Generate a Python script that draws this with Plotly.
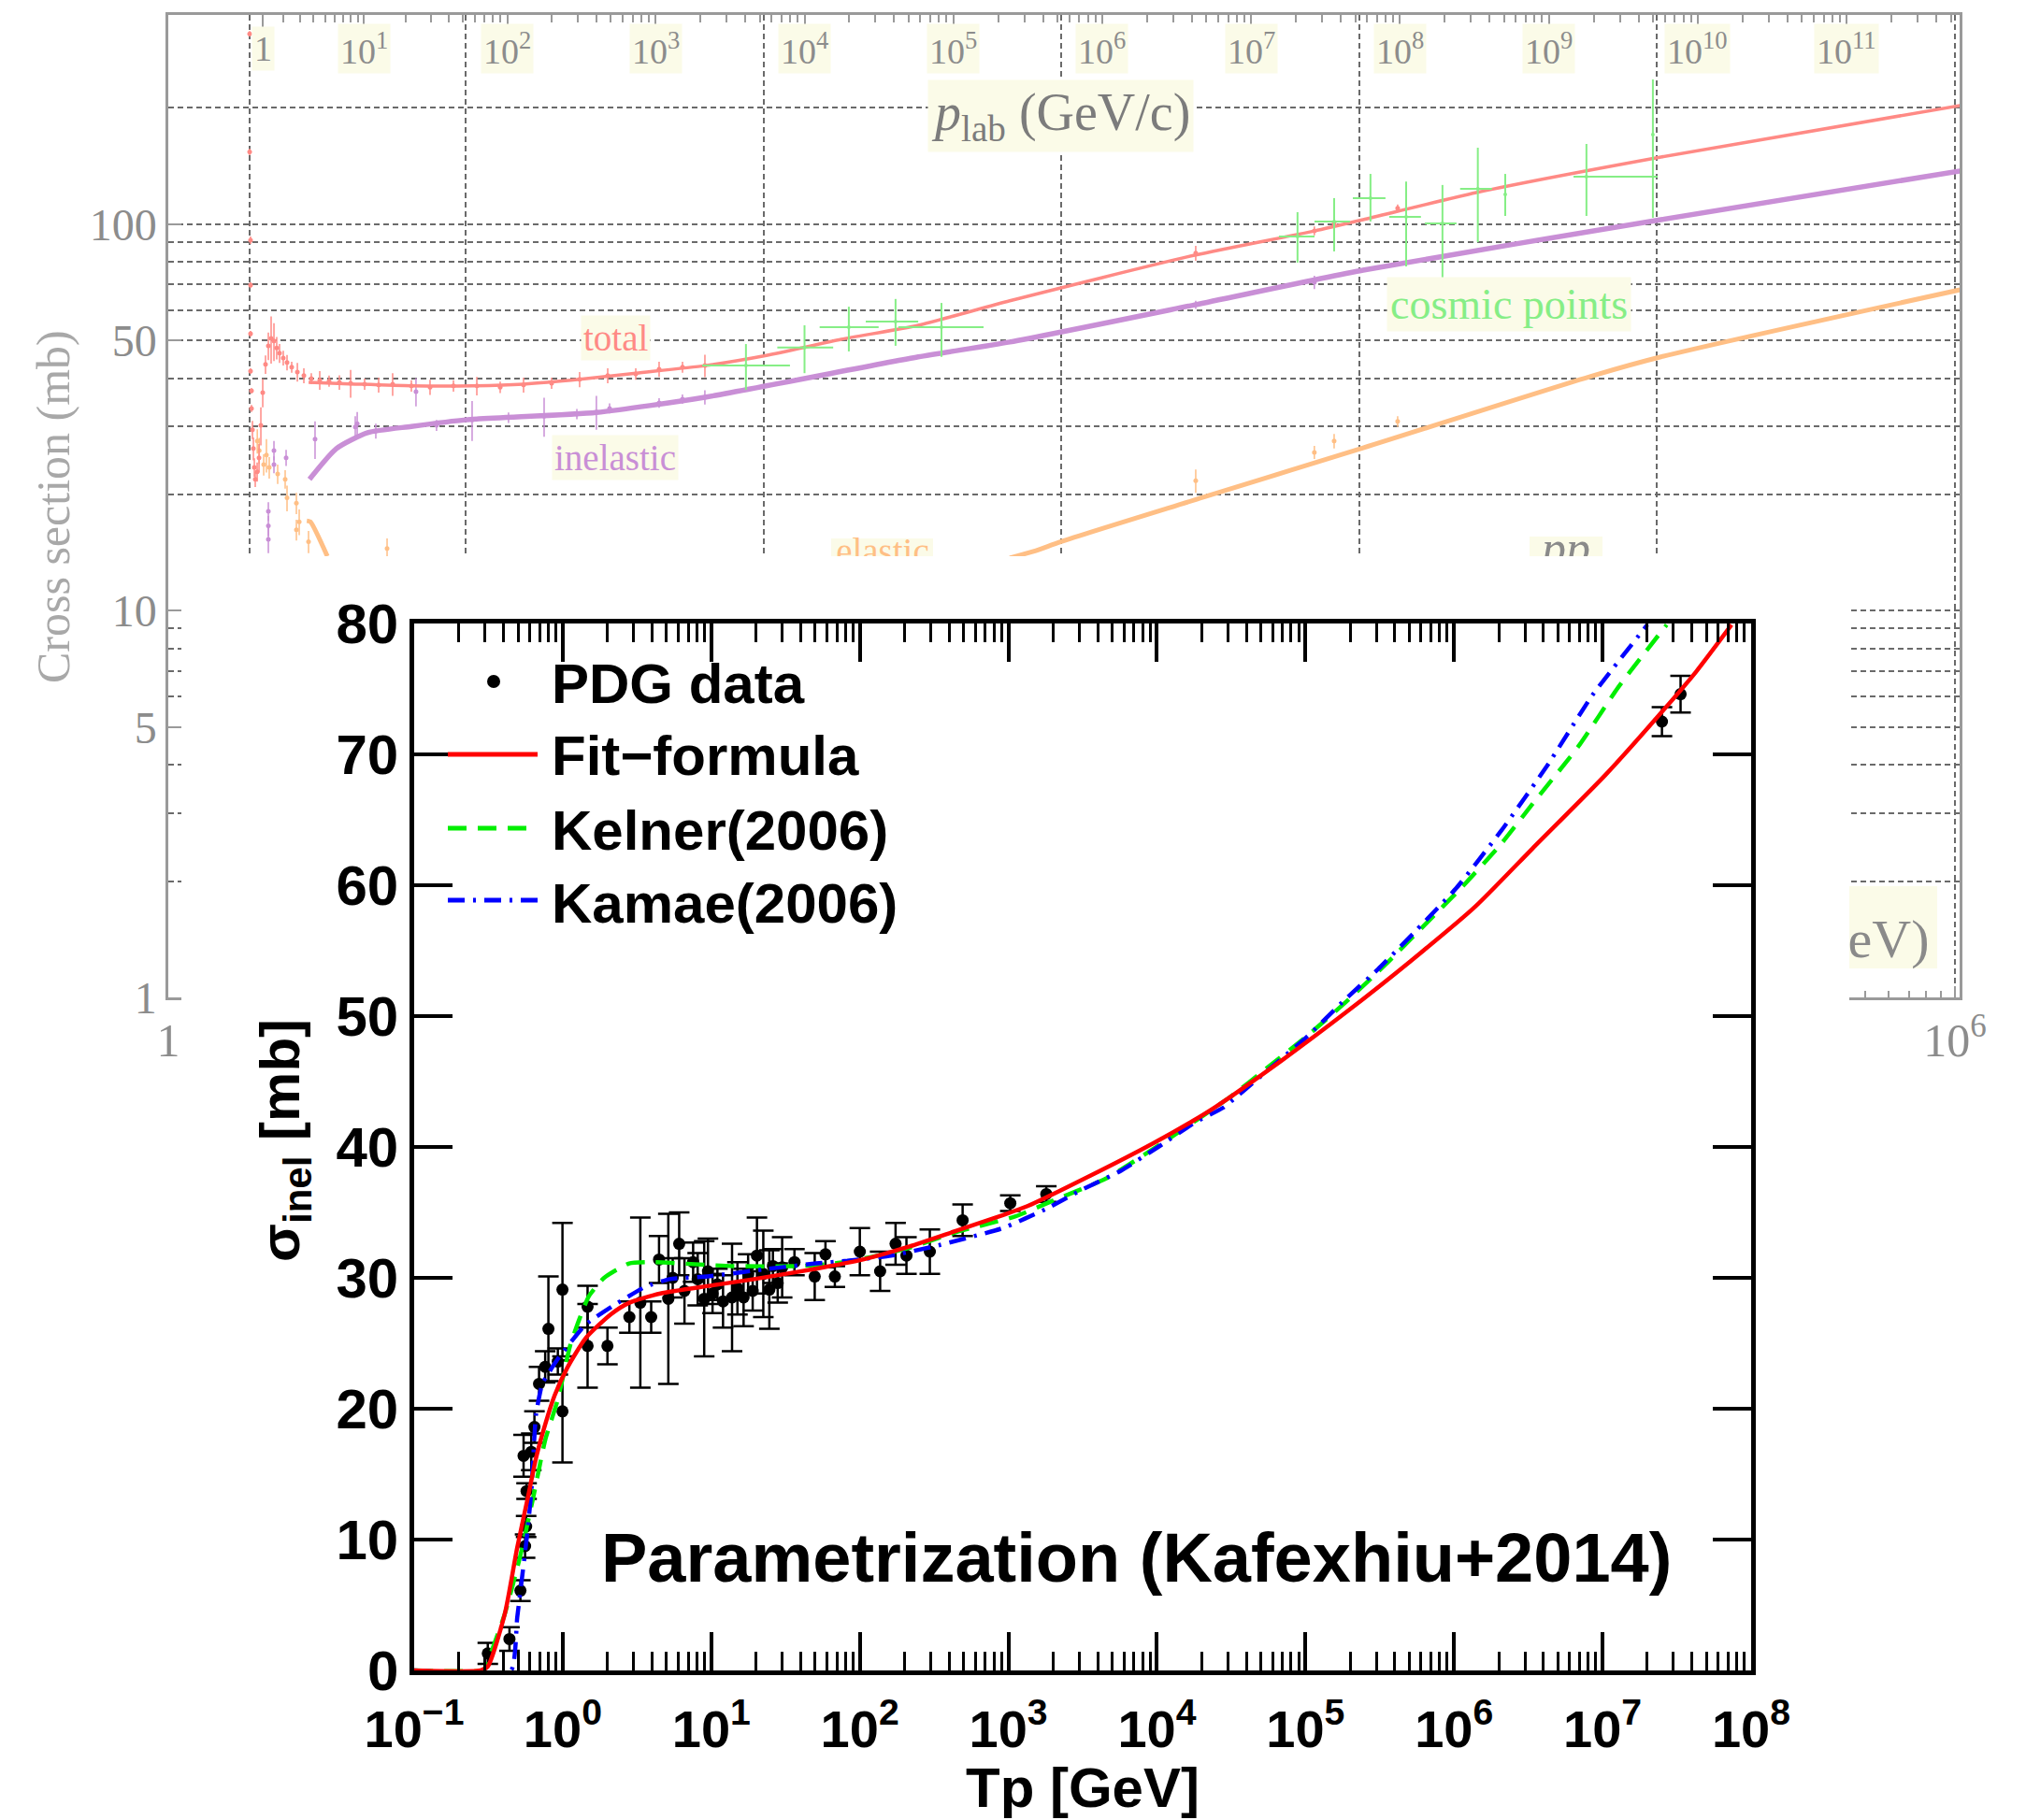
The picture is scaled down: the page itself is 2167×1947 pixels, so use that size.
import numpy as np
import plotly.graph_objects as go

W, H = 2167, 1947
def fx(p): return p / W
def fy(p): return 1 - p / H

SERIF = "Liberation Serif, Times New Roman, serif"
SANS = "Liberation Sans, Arial, Helvetica, sans-serif"
GRAY_TXT = "#8c8c8c"
AX_GRAY = "#9a9a9a"
GRID = "#6a6a6a"
C_TOT = "#ff8a85"
C_INEL = "#c98fd6"
C_EL = "#ffbf85"
C_COS = "#86ee86"
BOX = "#fbfbe8"

# ---------------- background PDG plot (x: sqrt(s) GeV, y: sigma mb) ----------------
total_fit_sqrts = [2.96, 4.25, 6.55, 10.5, 15.6, 24.1, 37.2, 63.4, 102, 182, 330, 670, 2800, 7060, 10300, 24700, 103000, 1.04e6]
total_fit_sigma = [39.0, 38.6, 38.2, 38.2, 38.6, 39.7, 41.2, 43.1, 45.8, 50.4, 54.8, 63.4, 83.2, 96.1, 102.8, 120.8, 149.3, 202.9]

inel_fit_sqrts = [2.98, 3.67, 4.67, 6.55, 9.96, 27.4, 63.4, 330, 670, 2800, 10300, 103000, 1.04e6]
inel_fit_sigma = [21.9, 26.3, 28.9, 30.0, 31.2, 32.6, 35.7, 45.4, 49.6, 61.9, 76.1, 102.8, 137.4]

el_lo_sqrts = [2.92, 3.0, 3.42]
el_lo_sigma = [17.1, 17.0, 13.85]
el_hi_sqrts = [670, 820, 996, 3010, 10300, 61000, 103000, 1.04e6]
el_hi_sigma = [13.7, 14.3, 15.1, 19.7, 26.4, 40.6, 45.4, 67.7]

tot_dat_sqrts = [1.876, 1.876, 1.889, 1.889, 1.889, 1.889, 1.903, 1.903, 1.917, 1.931, 1.945, 1.959, 1.988,
                 2.017, 2.046, 2.076, 2.121, 2.168, 2.215, 2.264, 2.313, 2.364, 2.433, 2.505, 2.597, 2.713,
                 2.853, 3.022, 3.226, 3.467, 3.755, 4.096, 4.564, 5.087, 5.669, 6.552, 7.570, 9.071, 10.87,
                 13.02, 15.60, 19.38, 24.07, 29.91, 37.15, 44.50, 53.33, 63.42, 2822, 7063, 8229, 13450]
tot_dat_sigma = [311, 154, 91.0, 69.6, 52.1, 41.7, 37.1, 33.4, 29.4, 26.3, 23.5, 21.9, 22.9, 24.9, 30.2, 36.7,
                 43.4, 48.5, 50.7, 49.9, 47.9, 46.4, 45.1, 43.9, 42.7, 41.5, 40.6, 39.9, 39.5, 39.3, 39.0, 38.8,
                 38.6, 38.4, 38.6, 38.2, 37.9, 38.2, 38.2, 37.9, 38.4, 38.8, 39.7, 40.6, 41.0, 42.2, 42.7, 43.1,
                 84.2, 96.2, 100.5, 110.0]
tot_dat_err = [5, 3, 2, 1.2, 0.9, 0.7, 0.6, 0.7, 1.6, 1.8, 1.3, 1.0, 1.3, 2.1, 3.4, 3.1, 2.4, 4.0, 7.1, 5.6,
               3.2, 2.6, 2.0, 2.0, 1.4, 2.3, 1.8, 1.3, 2.2, 1.3, 1.7, 3.2, 1.3, 1.7, 2.6, 1.3, 1.7, 1.3, 2.1,
               1.3, 1.7, 1.3, 1.8, 1.8, 1.4, 1.9, 1.4, 2.9, 3.7, 2.5, 2.2, 2.5]

inel_dat_sqrts = [2.168, 2.168, 2.168, 2.264, 2.264, 2.487, 3.111, 4.246, 4.31, 4.977, 6.79, 7.96, 10.48,
                  13.89, 18.29, 23.56, 27.4, 30.34, 44.5, 53.3, 63.4, 2822, 7063]
inel_dat_sigma = [18.1, 16.6, 15.3, 26.0, 23.9, 24.9, 27.8, 29.9, 30.5, 29.2, 36.9, 30.2, 31.2, 31.6, 31.9,
                  32.3, 32.7, 33.4, 34.5, 35.3, 35.7, 61.9, 70.8]
inel_dat_err = [1.0, 1.0, 1.2, 1.5, 1.2, 1.2, 3.1, 2.0, 2.2, 1.3, 3.1, 1.0, 3.7, 1.0, 3.7, 1.0, 3.3, 1.0,
                1.0, 1.0, 1.5, 1.5, 2.8]

el_dat_sqrts = [1.99, 2.02, 2.091, 2.136, 2.183, 2.330, 2.469, 2.505, 2.693, 2.752, 2.693, 2.958, 5.43,
                2822, 7063, 8229, 13450]
el_dat_sigma = [27.5, 26.0, 23.9, 25.3, 23.5, 22.6, 21.9, 19.6, 19.0, 17.0, 16.2, 15.1, 14.5, 21.7, 25.7,
                27.5, 30.9]
el_dat_err = [2.0, 2.0, 1.5, 2.5, 1.5, 1.3, 1.2, 1.5, 1.2, 1.3, 1.0, 1.0, 0.9, 1.5, 1.0, 1.2, 1.0]

cos_sqrts = [87.1, 137, 193, 277, 395, 6200, 8230, 10900, 14360, 19020, 25000, 30900, 57900, 96800]
cos_sigma = [43.1, 48.0, 54.2, 56.0, 54.2, 93.0, 101.7, 116.9, 104.5, 100.5, 123.6, 119.5, 132.8, 170.6]
cos_sqrts_lo = [62.1, 111, 154, 220, 283, 5370, 7070, 9510, 12600, 16600, 21800, 30900, 52400, 96800]
cos_sqrts_hi = [122.4, 171, 243, 330, 547, 7070, 9300, 12240, 16100, 21200, 27900, 30900, 100400, 96800]
cos_sigma_lo = [37.3, 41.2, 46.9, 48.5, 45.4, 79.6, 85.1, 101.7, 77.8, 72.8, 89.9, 105.1, 105.1, 104.0]
cos_sigma_hi = [49.0, 54.8, 61.2, 64.1, 62.6, 107.5, 116.9, 135.0, 129.0, 126.4, 157.8, 135.0, 161.4, 237.0]

bg_y_ticks = [1, 5, 10, 50, 100]
bg_y_minor = [2, 3, 4, 6, 7, 8, 9, 20, 30, 40, 60, 70, 80, 90, 200]
M_P = 0.938272
THRESH = 2 * M_P
plab_decades = list(range(0, 12))

# ---------------- foreground plot (x: Tp GeV, y: sigma_inel mb) ----------------
fit_tp = [0.1, 0.28, 0.313, 0.407, 0.494, 0.585, 0.66, 0.762, 0.881, 1.07, 1.43, 2.10, 2.81, 4.55, 9.86,
          19.4, 50.8, 105, 216, 447, 921, 1355, 3556, 9330, 17500, 2.51e4, 6.9e4, 1.88e5, 5.1e5, 1.4e6,
          3.37e6, 1.04e7, 2.4e7, 4.25e7, 7.38e7]
fit_sigma = [0, 0, 0.3, 4.3, 9.4, 13.3, 16.2, 18.8, 21.0, 23.1, 25.4, 27.2, 28.1, 28.8, 29.4, 29.9, 30.7,
             31.4, 32.4, 33.6, 34.8, 35.5, 37.8, 40.25, 42.0, 43.1, 46.6, 50.3, 54.2, 58.4, 62.8, 68.4, 73.0,
             76.3, 79.9]

kel_tp = [0.1, 0.29, 0.30, 0.407, 0.519, 0.63, 0.762, 0.927, 1.12, 1.30, 1.50, 1.90, 2.8, 4.13, 8.95, 13.8,
          39.8, 67.6, 120, 216, 447, 1120, 2000, 4570, 11900, 3.1e4, 5.6e4, 1.03e5, 1.88e5, 3.43e5, 6.26e5,
          1.14e6, 2.09e6, 3.37e6, 6.97e6, 1.27e7, 2.7e7]
kel_sigma = [0, 0, 0.2, 4.3, 8.8, 13.1, 17.6, 20.7, 24.8, 26.9, 28.6, 30.0, 31.1, 31.2, 31.0, 30.9, 30.9, 31.1,
             31.6, 32.3, 33.5, 34.7, 35.9, 37.6, 40.6, 43.8, 46.1, 48.5, 51.1, 53.9, 56.9, 59.9, 63.2, 66.2,
             70.7, 75.1, 79.9]

kam_tp = [0.1, 0.449, 0.494, 0.571, 0.614, 0.66, 0.728, 0.927, 1.43, 2.21, 3.57, 5.25, 9.4, 24.5, 50.8, 82.4,
          162, 316, 921, 1820, 3090, 5750, 10200, 18200, 2.79e4, 5.62e4, 1.02e5, 1.86e5, 3.09e5, 5.62e5,
          1.04e6, 2.09e6, 4.22e6, 8.51e6, 2.0e7]
kam_sigma = [0, 0, 4.05, 10.0, 13.6, 19.5, 21.9, 23.8, 26.45, 27.9, 29.3, 29.9, 30.1, 30.7, 31.1, 31.3, 31.7,
             32.4, 33.8, 35.3, 36.7, 38.2, 40.0, 41.9, 43.0, 45.9, 48.4, 51.3, 53.6, 56.6, 59.8, 64.2, 69.1,
             74.5, 79.9]

pdg_tp = [0.313, 0.438, 0.519, 0.558, 0.567, 0.571, 0.545, 0.614, 0.645, 0.693, 0.762, 0.801, 0.927, 0.996,
          0.996, 1.47, 1.47, 2.0, 2.81, 3.33, 3.94, 4.45, 5.14, 5.5, 6.08, 6.6, 7.55, 8.1, 8.96, 9.5, 10.2,
          11.0, 12.0, 13.8, 15.0, 16.5, 17.7, 19.0, 20.3, 22.4, 24.6, 26.0, 28.0, 30.0, 36.3, 49.7, 58.7, 67.9,
          100, 137, 174, 206, 296, 492, 1030, 1800, 2.51e7, 3.35e7]
pdg_sigma = [1.3, 2.4, 6.1, 9.5, 11.0, 13.7, 16.4, 16.7, 18.6, 21.9, 23.2, 26.1, 23.6, 29.1, 19.8, 27.8, 24.8,
             24.8, 27.0, 28.1, 27.0, 31.4, 28.4, 30.0, 32.6, 29.0, 31.2, 29.9, 28.4, 30.5, 28.8, 29.5, 28.2,
             28.5, 29.2, 28.5, 30.3, 29.0, 31.7, 30.3, 29.1, 30.9, 29.6, 30.8, 31.2, 30.1, 31.8, 30.1, 32.0,
             30.5, 32.6, 31.7, 32.0, 34.4, 35.7, 36.4, 72.5, 74.6]
pdg_err = [0.8, 0.9, 0.8, 0.9, 0.8, 0.6, 1.6, 1.4, 1.2, 1.3, 1.2, 4.0, 1.0, 5.1, 3.9, 1.6, 3.2, 1.4, 1.2, 6.5,
           1.2, 1.8, 6.5, 1.5, 2.4, 2.5, 1.5, 2.0, 4.4, 2.5, 1.5, 1.2, 2.0, 4.1, 2.0, 2.2, 1.5, 1.5, 2.9, 3.3,
           3.0, 1.3, 1.5, 2.3, 1.0, 1.8, 1.0, 0.8, 1.8, 1.5, 1.6, 1.4, 1.7, 1.2, 0.6, 0.6, 1.1, 1.4]

fg_x_exps = list(range(-1, 9))
fg_y_ticks = list(range(0, 81, 10))
legend_labels = ["PDG data", "Fit\u2212formula", "Kelner(2006)", "Kamae(2006)"]


def sqrts_from_plab(p):
    return np.sqrt(2 * M_P ** 2 + 2 * M_P * np.sqrt(p ** 2 + M_P ** 2))


fig = go.Figure()
common = dict(showlegend=False, hoverinfo="skip")

# ---- background traces (subplot xy) ----
fig.add_trace(go.Scatter(x=el_lo_sqrts, y=el_lo_sigma, mode="lines", xaxis="x", yaxis="y",
                         line=dict(color=C_EL, width=5, shape="spline", smoothing=0.6), **common))
fig.add_trace(go.Scatter(x=el_hi_sqrts, y=el_hi_sigma, mode="lines", xaxis="x", yaxis="y",
                         line=dict(color=C_EL, width=5, shape="spline", smoothing=0.8), **common))
fig.add_trace(go.Scatter(x=el_dat_sqrts, y=el_dat_sigma, mode="markers", xaxis="x", yaxis="y",
                         marker=dict(color=C_EL, size=5),
                         error_y=dict(type="data", array=el_dat_err, color=C_EL, thickness=1.5, width=0), **common))
fig.add_trace(go.Scatter(x=inel_fit_sqrts, y=inel_fit_sigma, mode="lines", xaxis="x", yaxis="y",
                         line=dict(color=C_INEL, width=5.5, shape="spline", smoothing=0.6), **common))
fig.add_trace(go.Scatter(x=inel_dat_sqrts, y=inel_dat_sigma, mode="markers", xaxis="x", yaxis="y",
                         marker=dict(color=C_INEL, size=5),
                         error_y=dict(type="data", array=inel_dat_err, color=C_INEL, thickness=1.5, width=0), **common))
fig.add_trace(go.Scatter(x=total_fit_sqrts, y=total_fit_sigma, mode="lines", xaxis="x", yaxis="y",
                         line=dict(color=C_TOT, width=3.5, shape="spline", smoothing=0.6), **common))
fig.add_trace(go.Scatter(x=tot_dat_sqrts, y=tot_dat_sigma, mode="markers", xaxis="x", yaxis="y",
                         marker=dict(color=C_TOT, size=5),
                         error_y=dict(type="data", array=tot_dat_err, color=C_TOT, thickness=1.5, width=0), **common))
cx = np.array(cos_sqrts); cy = np.array(cos_sigma)
fig.add_trace(go.Scatter(x=cos_sqrts, y=cos_sigma, mode="markers", xaxis="x", yaxis="y",
                         marker=dict(color=C_COS, size=4),
                         error_x=dict(type="data", symmetric=False, array=np.array(cos_sqrts_hi) - cx,
                                      arrayminus=cx - np.array(cos_sqrts_lo), color=C_COS, thickness=2, width=0),
                         error_y=dict(type="data", symmetric=False, array=np.array(cos_sigma_hi) - cy,
                                      arrayminus=cy - np.array(cos_sigma_lo), color=C_COS, thickness=2, width=0),
                         **common))
# labels that get partly hidden by the inset
fig.add_trace(go.Scatter(x=[250.5], y=[14.0], mode="text", text=["elastic"], xaxis="x", yaxis="y",
                         textfont=dict(family=SERIF, size=39, color=C_EL), textposition="middle center", **common))
fig.add_trace(go.Scatter(x=[49400], y=[14.2], mode="text", text=["<i>pp</i>"], xaxis="x", yaxis="y",
                         textfont=dict(family=SERIF, size=52, color="#8a8a8a"), textposition="middle center", **common))
fig.add_trace(go.Scatter(x=[8.2e5], y=[1.38], mode="text", text=["\u221As (GeV)"], xaxis="x", yaxis="y",
                         textfont=dict(family=SERIF, size=58, color="#8a8a8a"), textposition="middle left", **common))
# invisible anchor for top p_lab axis
fig.add_trace(go.Scatter(x=[10, 100], y=[10, 10], mode="markers", xaxis="x2", yaxis="y",
                         marker=dict(opacity=0), **common))
# ---- white cover subplot ----
fig.add_trace(go.Scatter(x=[0.5], y=[0.5], mode="markers", xaxis="x3", yaxis="y3",
                         marker=dict(opacity=0), **common))
# ---- foreground traces ----
fig.add_trace(go.Scatter(x=pdg_tp, y=pdg_sigma, mode="markers", xaxis="x4", yaxis="y4",
                         marker=dict(color="black", size=13),
                         error_y=dict(type="data", array=pdg_err, color="black", thickness=2.5, width=11),
                         name="PDG data", **common))
fig.add_trace(go.Scatter(x=kel_tp, y=kel_sigma, mode="lines", xaxis="x4", yaxis="y4", name="Kelner(2006)",
                         line=dict(color="#00ee00", width=4.5, dash="20px,12px", shape="spline", smoothing=0.5),
                         **common))
fig.add_trace(go.Scatter(x=kam_tp, y=kam_sigma, mode="lines", xaxis="x4", yaxis="y4", name="Kamae(2006)",
                         line=dict(color="#0000ff", width=4.5, dash="18px,9px,3px,9px", shape="spline",
                                   smoothing=0.4), **common))
fig.add_trace(go.Scatter(x=fit_tp, y=fit_sigma, mode="lines", xaxis="x4", yaxis="y4", name="Fit\u2212formula",
                         line=dict(color="#ff0000", width=4.5, shape="spline", smoothing=0.6), **common))

# ---------------- axes ----------------
bg_range_x = [0, 6.016]
bg_x_vals = [1, THRESH] + [10 ** k for k in range(1, 7)]
bg_x_text = ["1", " "] + ["10<sup>%d</sup>" % k for k in range(1, 7)]
bg_x_minor = [m * 10 ** k for k in range(0, 6) for m in range(2, 10)]

top_major = [float(sqrts_from_plab(10.0 ** k)) for k in plab_decades]
top_minor = [float(sqrts_from_plab(m * 10.0 ** k)) for k in plab_decades for m in range(2, 10)]
top_minor = [v for v in top_minor if np.log10(v) < bg_range_x[1]]

fg_x_vals = [10.0 ** e for e in fg_x_exps]
fg_x_text = ["10<sup>%s</sup>" % (("\u2212%d" % -e) if e < 0 else str(e)) for e in fg_x_exps]
fg_x_minor = [m * 10.0 ** e for e in fg_x_exps[:-1] for m in range(2, 10)]

bold = dict(family=SANS, color="black", weight="bold")

fig.update_layout(
    template="none",
    width=W, height=H, autosize=False,
    margin=dict(l=0, r=0, t=0, b=0, pad=0, autoexpand=False),
    paper_bgcolor="white", plot_bgcolor="white", showlegend=False, hovermode=False,
    xaxis=dict(domain=[fx(180), fx(2096)], anchor="y", type="log", range=bg_range_x, automargin=False,
               showline=True, linecolor=AX_GRAY, linewidth=2.5, mirror=True,
               ticks="inside", ticklen=12, tickwidth=2, tickcolor=AX_GRAY,
               tickmode="array", tickvals=bg_x_vals, ticktext=bg_x_text,
               tickfont=dict(family=SERIF, size=50, color=GRAY_TXT),
               showgrid=True, gridcolor=GRID, gridwidth=2, griddash="6px,4px", zeroline=False,
               minor=dict(tickmode="array", tickvals=bg_x_minor, ticks="inside", ticklen=7,
                          tickcolor=AX_GRAY, tickwidth=1.5, showgrid=False)),
    yaxis=dict(domain=[fy(1067), fy(16)], anchor="x", type="log", range=[0, np.log10(348)], automargin=False,
               showline=True, linecolor=AX_GRAY, linewidth=2.5, mirror=True,
               ticks="inside", ticklen=14, tickwidth=2, tickcolor=AX_GRAY,
               tickmode="array", tickvals=bg_y_ticks, ticktext=[str(v) for v in bg_y_ticks],
               tickfont=dict(family=SERIF, size=48, color=GRAY_TXT),
               showgrid=True, gridcolor=GRID, gridwidth=2, griddash="6px,4px", zeroline=False,
               minor=dict(tickmode="array", tickvals=bg_y_minor, ticks="", showgrid=True,
                          gridcolor=GRID, gridwidth=2, griddash="6px,4px")),
    xaxis2=dict(overlaying="x", anchor="y", side="top", type="log", range=bg_range_x, automargin=False,
                showline=False, ticks="inside", ticklen=14, tickwidth=2, tickcolor=AX_GRAY,
                tickmode="array", tickvals=top_major, showticklabels=False, showgrid=False, zeroline=False,
                minor=dict(tickmode="array", tickvals=top_minor, ticks="inside", ticklen=8,
                           tickwidth=1.5, tickcolor=AX_GRAY, showgrid=False)),
    xaxis3=dict(domain=[fx(194), fx(1978)], anchor="y3", range=[0, 1], showline=False, automargin=False,
                showticklabels=False, showgrid=False, zeroline=False, ticks=""),
    yaxis3=dict(domain=[0, fy(595)], anchor="x3", range=[0, 1], showline=False, automargin=False,
                showticklabels=False, showgrid=False, zeroline=False, ticks=""),
    xaxis4=dict(domain=[fx(443), fx(1873)], anchor="y4", type="log", range=[-1, 8], automargin=False,
                showline=True, linecolor="black", linewidth=4.5, mirror="allticks",
                ticks="inside", ticklen=41, tickwidth=3.5, tickcolor="black", ticklabelstandoff=10,
                tickmode="array", tickvals=fg_x_vals, ticktext=fg_x_text,
                tickfont=dict(size=56, **bold), showgrid=False, zeroline=False,
                minor=dict(tickmode="array", tickvals=fg_x_minor, ticks="inside", ticklen=20,
                           tickwidth=3, tickcolor="black", showgrid=False)),
    yaxis4=dict(domain=[fy(1787), fy(667)], anchor="x4", range=[0, 80], automargin=False,
                showline=True, linecolor="black", linewidth=4.5, mirror="allticks",
                ticks="inside", ticklen=41, tickwidth=3.5, tickcolor="black",
                tickmode="array", tickvals=fg_y_ticks, ticktext=[str(v) for v in fg_y_ticks],
                tickfont=dict(size=60, **bold), showgrid=False, zeroline=False),
)

ann = []
# top p_lab tick labels (yellow boxes)
for k, v in zip(plab_decades, top_major):
    ann.append(dict(x=np.log10(v), xref="x", y=fy(52), yref="paper", showarrow=False,
                    text="1" if k == 0 else "10<sup>%d</sup>" % k, bgcolor=BOX, borderpad=2,
                    font=dict(family=SERIF, size=38, color=GRAY_TXT), xanchor="center", yanchor="middle"))
ann += [
    dict(x=fx(1135), y=fy(124), text="<i>p</i><sub>lab</sub> (GeV/c)", bgcolor=BOX, borderpad=3,
         font=dict(family=SERIF, size=56, color="#7c7c7c")),
    dict(x=fx(57), y=fy(542), text="Cross section (mb)", textangle=-90,
         font=dict(family=SERIF, size=50, color="#a8a8a8")),
    dict(x=fx(658), y=fy(361), text="total", bgcolor=BOX, borderpad=2,
         font=dict(family=SERIF, size=39, color=C_TOT)),
    dict(x=fx(658), y=fy(489), text="inelastic", bgcolor=BOX, borderpad=2,
         font=dict(family=SERIF, size=39, color=C_INEL)),
    dict(x=fx(1614), y=fy(326), text="cosmic points", bgcolor=BOX, borderpad=3,
         font=dict(family=SERIF, size=46, color=C_COS)),
    # foreground texts
    dict(x=fx(304), y=fy(1220), text="\u03c3<sub>inel</sub> [mb]", textangle=-90, font=dict(size=60, **bold)),
    dict(x=fx(1158), y=fy(1912), text="Tp [GeV]", font=dict(size=60, **bold)),
    dict(x=fx(1215), y=fy(1666), text="Parametrization (Kafexhiu+2014)", font=dict(size=74, **bold)),
]
for lab, yy in zip(legend_labels, [731, 808, 888, 966]):
    ann.append(dict(x=fx(588), y=fy(yy), text=lab, xanchor="left", font=dict(size=60, **bold)))
for a in ann:
    a.setdefault("xref", "paper"); a.setdefault("yref", "paper"); a.setdefault("showarrow", False)
    a.setdefault("xanchor", "center"); a.setdefault("yanchor", "middle")
fig.update_layout(annotations=ann)

shapes = [
    # yellow boxes behind labels that are partly hidden by the inset (below all subplots)
    dict(type="rect", xref="paper", yref="paper", x0=fx(889), x1=fx(998), y0=fy(612), y1=fy(576),
         fillcolor=BOX, line=dict(width=0), layer="below"),
    dict(type="rect", xref="paper", yref="paper", x0=fx(1636), x1=fx(1714), y0=fy(615), y1=fy(574),
         fillcolor=BOX, line=dict(width=0), layer="below"),
    dict(type="rect", xref="paper", yref="paper", x0=fx(1800), x1=fx(2072), y0=fy(1036), y1=fy(948),
         fillcolor=BOX, line=dict(width=0), layer="below"),
    # manual legend samples
    dict(type="circle", xref="paper", yref="paper", x0=fx(521), x1=fx(535), y0=fy(736), y1=fy(722),
         fillcolor="black", line=dict(width=0), layer="above"),
    dict(type="line", xref="paper", yref="paper", x0=fx(479), x1=fx(575), y0=fy(807), y1=fy(807),
         line=dict(color="#ff0000", width=5), layer="above"),
    dict(type="line", xref="paper", yref="paper", x0=fx(479), x1=fx(575), y0=fy(886), y1=fy(886),
         line=dict(color="#00ee00", width=5, dash="20px,12px"), layer="above"),
    dict(type="line", xref="paper", yref="paper", x0=fx(479), x1=fx(575), y0=fy(963), y1=fy(963),
         line=dict(color="#0000ff", width=5, dash="18px,9px,3px,9px"), layer="above"),
]
fig.update_layout(shapes=shapes)

fig.write_html("out.html")
